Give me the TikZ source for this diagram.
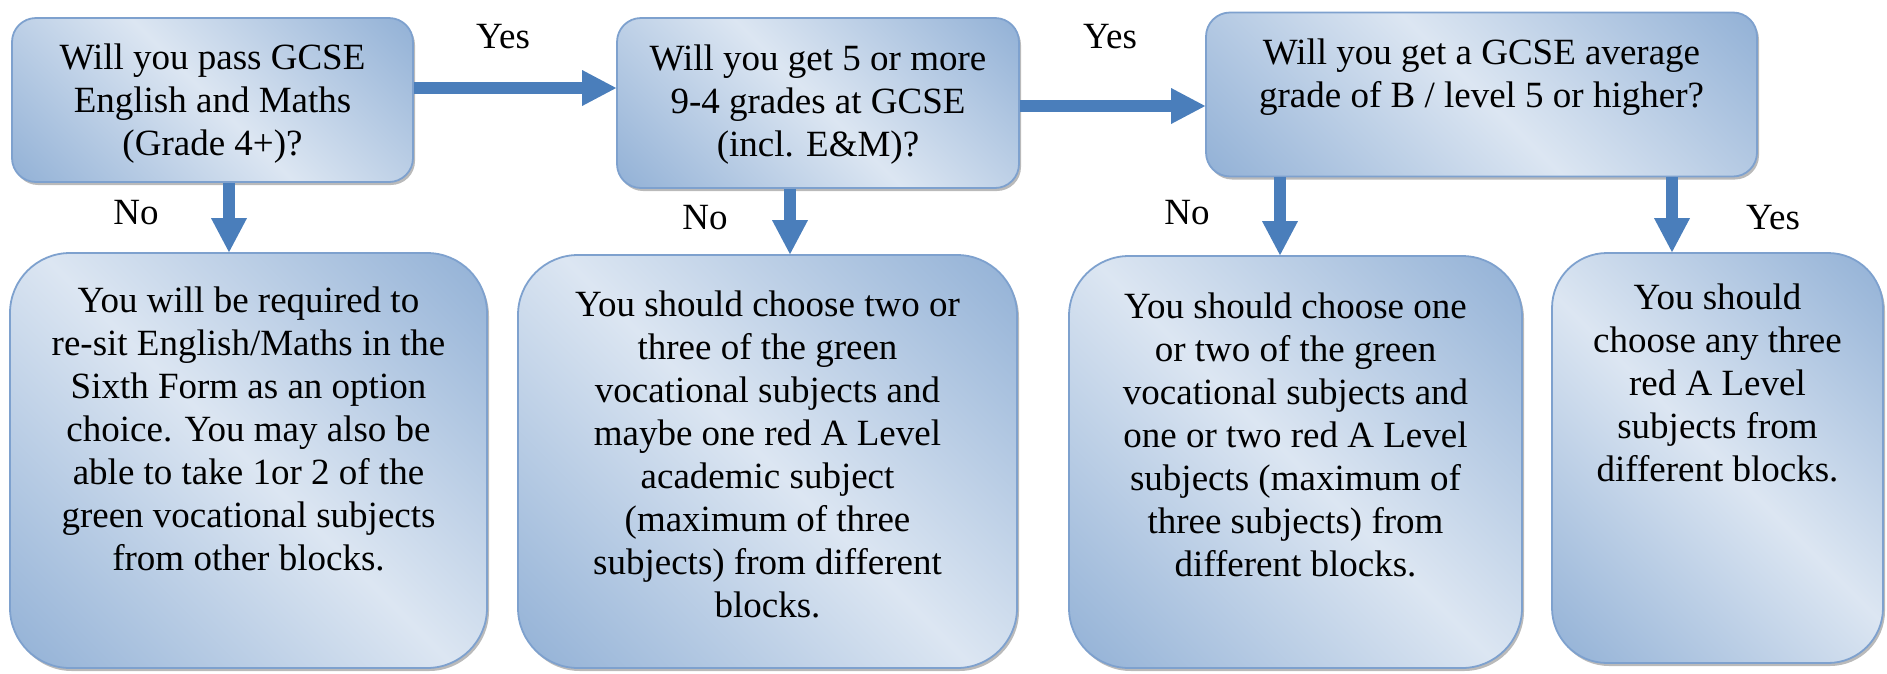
\documentclass[tikz,border=0pt]{standalone}
\usepackage{fontspec}
\setmainfont{Liberation Serif}
\usepackage{xcolor}
\usepackage{tikz}
\usetikzlibrary{arrows.meta, shadows}

\definecolor{boxlight}{RGB}{220,230,242}
\definecolor{boxdark}{RGB}{149,179,215}
\definecolor{boxline}{RGB}{126,161,206}
\definecolor{arrowblue}{RGB}{74,126,187}
\pgfdeclarehorizontalshading{boxfade}{100bp}{color(0bp)=(boxdark); color(16bp)=(boxdark); color(50bp)=(boxlight); color(84bp)=(boxdark); color(100bp)=(boxdark)}

\begin{document}
\begin{tikzpicture}[
    x=1pt, y=1pt,
    box/.style={
      rectangle, rounded corners=24pt,
      draw=boxline, line width=1.8pt,
      shade, shading=boxfade, shading angle=45,
      drop shadow={shadow xshift=2pt, shadow yshift=-3pt,
                   fill=black!60, opacity=0.45},
      align=center, inner sep=10pt,
      font=\fontsize{37}{43}\selectfont
    },
    bigbox/.style={box, rounded corners=60pt},
    lbl/.style={font=\fontsize{37}{43}\selectfont, inner sep=0pt},
    arr/.style={-{Triangle[length=34pt, width=36pt, line width=0pt]},
      line width=12pt, draw=arrowblue}
  ]
  \useasboundingbox (0,0) rectangle (1887,-673);

  % questions
  \node[box, minimum width=401pt, minimum height=164pt, text depth=0pt] (gcse) at (212.5,-100) {
    Will you pass GCSE\\
    English and Maths\\
    (Grade 4+)?
  };
  \node[box, minimum width=402pt, minimum height=170pt, text depth=4pt] (grades) at (818,-103) {
    Will you get 5 or more\\
    9-4 grades at GCSE\\
    (incl. E\&M)?
  };
  \node[box, minimum width=551pt, minimum height=164pt, text depth=42pt] (average) at (1481.5,-94.5) {
    Will you get a GCSE average\\
    grade of B / level 5 or higher?
  };

  % advice
  \node[bigbox, minimum width=477pt, minimum height=415pt, text depth=64pt] (resit) at (248.5,-460.5) {
    You will be required to\\
    re-sit English/Maths in the\\
    Sixth Form as an option\\
    choice. You may also be\\
    able to take 1or 2 of the\\
    green vocational subjects\\
    from other blocks.
  };
  \node[bigbox, minimum width=499pt, minimum height=413pt, text depth=15pt] (mixed) at (767.5,-461.5) {
    You should choose two or\\
    three of the green\\
    vocational subjects and\\
    maybe one red A Level\\
    academic subject\\
    (maximum of three\\
    subjects) from different\\
    blocks.
  };
  \node[bigbox, minimum width=453pt, minimum height=412pt, text depth=54pt] (split) at (1295.5,-462) {
    You should choose one\\
    or two of the green\\
    vocational subjects and\\
    one or two red A Level\\
    subjects (maximum of\\
    three subjects) from\\
    different blocks.
  };
  \node[bigbox, rounded corners=55pt, minimum width=331pt, minimum height=410pt, text depth=150pt] (alevel) at (1717.5,-458) {
    You should\\
    choose any three\\
    red A Level\\
    subjects from\\
    different blocks.
  };

  % answers
  \node[lbl] (yes1) at (503,-37) {Yes};
  \node[lbl] (yes2) at (1110,-37) {Yes};
  \node[lbl] (no1) at (136,-213) {No};
  \node[lbl] (no2) at (705,-218) {No};
  \node[lbl] (no3) at (1187,-213) {No};
  \node[lbl] (yes3) at (1773,-218) {Yes};

  \draw[arr] ([yshift=12pt]gcse.east) -- ([yshift=12pt]gcse.east -| grades.west);
  \draw[arr] ([yshift=-3pt]grades.east) -- ([yshift=-3pt]grades.east -| average.west);
  \draw[arr] ([xshift=16.5pt]gcse.south) -- ([xshift=16.5pt]gcse.south |- resit.north);
  \draw[arr] ([xshift=-28pt]grades.south) -- ([xshift=-28pt]grades.south |- mixed.north);
  \draw[arr] ([xshift=-201.5pt]average.south) -- ([xshift=-201.5pt]average.south |- split.north);
  \draw[arr] ([xshift=190.5pt]average.south) -- ([xshift=190.5pt]average.south |- alevel.north);
\end{tikzpicture}
\end{document}
